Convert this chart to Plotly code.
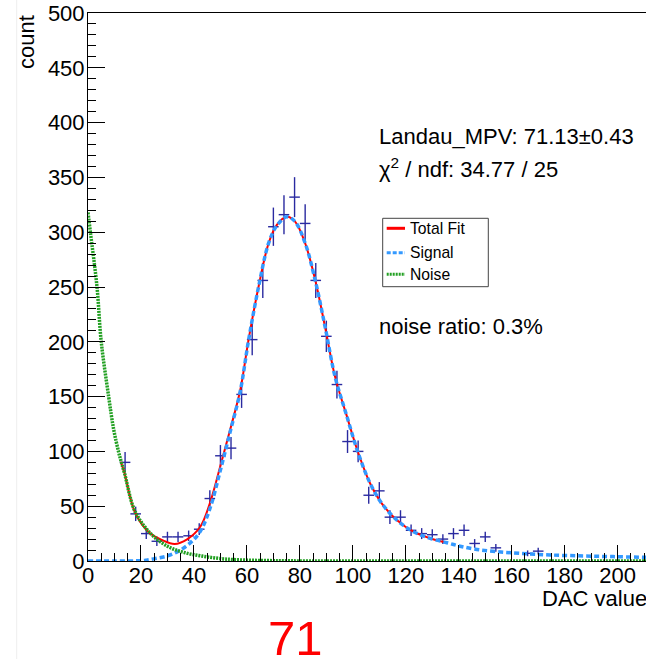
import math
import plotly.graph_objects as go

# ---------------- data ----------------
bin_centers = [14, 18, 22, 26, 30, 34, 38, 42, 46, 50, 54, 58, 62, 66, 70, 74, 78, 82, 86, 90,
               94, 98, 102, 106, 110, 114, 118, 122, 126, 130, 134, 138, 142, 146, 150, 154, 166, 170]
counts = [90, 43, 25, 18, 22, 22, 23, 29, 57, 96, 103, 152, 202, 256, 305, 316, 332, 308, 256, 205,
          161, 109, 100, 60, 64, 40, 40, 28, 25, 24, 20, 25, 28, 16, 22, 12, 7, 9]
bin_half_width = 2

# fitted curves
total_x = [12.4, 13.8, 17.8, 23.5, 27.9, 32.7, 37.4, 42.4, 46.2, 49.9, 53.7, 57.5, 60.6, 64.4,
           68.2, 71.3, 75.1, 78.2, 82.0, 85.8, 89.5, 93.3, 97.5, 102.1, 106.5, 110.9, 116.6,
           122.9, 129.2, 135.0]
total_y = [90.6, 80, 44, 25, 19.2, 15.5, 19.8, 31.3, 54, 86, 120, 156, 201.6, 250.3,
           289.9, 306.6, 314, 309.6, 289.9, 256.4, 213.8, 168, 134, 98.3, 70.9, 52.6, 37.4,
           26.7, 20.7, 16.8]

signal_x = [0, 10, 20, 22, 25.4, 29.8, 34.2, 38.6, 42.4, 46.2, 49.9, 53.7, 57.5, 60.6, 64.4,
            68.2, 71.3, 75.1, 78.2, 82.0, 85.8, 89.5, 93.3, 97.5, 102.1, 106.5, 110.9, 116.6,
            122.9, 129.2, 135.5, 140.5, 146.8, 154.3, 163.1, 174.5, 187.0, 198.3, 210.7]
signal_y = [0, 0, 0.3, 0.8, 2.2, 4.5, 9, 16.5, 27, 49, 82, 118, 155, 201, 250,
            290, 306, 314, 309.6, 290, 256, 214, 168, 134, 98, 71, 52.6, 37.4,
            26.7, 20.7, 16.7, 13.5, 10.5, 8.5, 7, 5.5, 4.6, 4, 3.4]

noise_x = [0, 0.9, 3.4, 5.0, 7.8, 9.7, 11.5, 12.6, 13.8, 17.8, 24.1, 30.4, 36.7, 43.0, 49.3,
           55.8, 70, 100, 150, 210.7]
noise_y = [318, 300, 250, 200, 150, 120, 100, 90, 80, 45, 24, 13, 7.5, 4.5, 2.4,
           1.2, 0.3, 0, 0, 0]

x_ticks = [0, 20, 40, 60, 80, 100, 120, 140, 160, 180, 200]
y_ticks = [0, 50, 100, 150, 200, 250, 300, 350, 400, 450, 500]

title_text = "71"
mpv_text = "Landau_MPV: 71.13±0.43"
chi_text = "χ<sup>2</sup> / ndf: 34.77 / 25"
noise_text = "noise ratio: 0.3%"
legend_labels = ["Total Fit", "Signal", "Noise"]

# ---------------- styles ----------------
FONT = "Liberation Sans, Arial, sans-serif"
NAVY = "#2a2aa0"
RED = "#ff0000"
BLUE = "#3399ff"
GREEN = "#22a022"
FS = 22

W, H = 646, 659
L, R, T, B = 88, 0, 13, 98
PW, PH = W - L - R, H - T - B


def px_x(p):
    return (p - L) / PW


def px_y(p):
    return (H - B - p) / PH


fig = go.Figure()

fig.add_trace(go.Scatter(
    x=bin_centers, y=counts, mode="markers",
    marker=dict(size=0.1, color=NAVY),
    error_x=dict(type="constant", value=bin_half_width, width=0, thickness=1.4, color=NAVY),
    error_y=dict(type="data", array=[math.sqrt(c) for c in counts], width=0, thickness=1.4, color=NAVY),
    showlegend=False, hoverinfo="skip"))

fig.add_trace(go.Scatter(x=total_x, y=total_y, mode="lines",
                         line=dict(color=RED, width=2, shape="spline", smoothing=1),
                         showlegend=False))
fig.add_trace(go.Scatter(x=signal_x, y=signal_y, mode="lines",
                         line=dict(color=BLUE, width=3.5, dash="5px,3px", shape="spline", smoothing=1),
                         showlegend=False))
fig.add_trace(go.Scatter(x=noise_x, y=noise_y, mode="lines",
                         line=dict(color=GREEN, width=3.5, dash="2px,1px", shape="spline", smoothing=1),
                         showlegend=False))

axis_common = dict(showline=True, linecolor="black", linewidth=1, ticks="inside",
                   tickcolor="black", tickwidth=1, showgrid=False, zeroline=False,
                   tickfont=dict(family=FONT, size=FS, color="black"))

fig.update_xaxes(range=[0, 210.7], tickvals=x_ticks, ticklen=16, mirror=True,
                 ticklabelstandoff=-5,
                 minor=dict(dtick=5, tick0=0, ticks="inside", ticklen=8, tickcolor="black", showgrid=False),
                 **axis_common)
fig.update_yaxes(range=[0, 500], tickvals=y_ticks, ticklen=17, mirror=False,
                 ticklabelstandoff=-2,
                 minor=dict(dtick=10, tick0=0, ticks="inside", ticklen=8, tickcolor="black", showgrid=False),
                 **axis_common)

ann = []
# axis titles
ann.append(dict(text="count", x=px_x(26), y=1.0, xref="paper", yref="paper",
                xanchor="center", yanchor="top", textangle=-90, showarrow=False,
                font=dict(family=FONT, size=FS, color="black")))
ann.append(dict(text="DAC value", x=1 + 2.0 / PW, y=px_y(611.5), xref="paper", yref="paper",
                xanchor="right", yanchor="bottom", showarrow=False, borderpad=0,
                font=dict(family=FONT, size=FS, color="black")))
# title
ann.append(dict(text=title_text, x=px_x(295), y=px_y(638), xref="paper", yref="paper",
                xanchor="center", yanchor="middle", showarrow=False, borderpad=0,
                font=dict(family="Liberation Sans Narrow, Liberation Sans, sans-serif", size=49, color=RED)))
# stats text
for txt, base in [(mpv_text, 149.8), (chi_text, 183.0), (noise_text, 339.8)]:
    ann.append(dict(text=txt, x=px_x(378), y=px_y(base), xref="paper", yref="paper",
                    xanchor="left", yanchor="bottom", showarrow=False, borderpad=0,
                    font=dict(family=FONT, size=FS, color="black")))
# legend texts
for txt, base in zip(legend_labels, [238.5, 261.8, 283.5]):
    ann.append(dict(text=txt, x=px_x(408.5), y=px_y(base), xref="paper", yref="paper",
                    xanchor="left", yanchor="bottom", showarrow=False, borderpad=0,
                    font=dict(family=FONT, size=15.7, color="black")))

shapes = []
# legend box
shapes.append(dict(type="rect", xref="paper", yref="paper",
                   x0=px_x(382.7), x1=px_x(488.3), y0=px_y(286.7), y1=px_y(218.3),
                   line=dict(color="#444444", width=1), fillcolor="white", layer="above"))
for yy, col, dash in [(228.3, RED, "solid"), (252.7, BLUE, "4px,2px"), (274.3, GREEN, "2px,1px")]:
    shapes.append(dict(type="line", xref="paper", yref="paper",
                       x0=px_x(386.7), x1=px_x(405), y0=px_y(yy), y1=px_y(yy),
                       line=dict(color=col, width=3, dash=dash), layer="above"))
# faint canvas line on the left
shapes.append(dict(type="line", xref="paper", yref="paper",
                   x0=px_x(16.7), x1=px_x(16.7), y0=px_y(659), y1=px_y(0),
                   line=dict(color="#eeeeee", width=1)))

fig.update_layout(width=W, height=H, autosize=False,
                  margin=dict(l=L, r=R, t=T, b=B, pad=0),
                  paper_bgcolor="white", plot_bgcolor="white",
                  showlegend=False, annotations=ann, shapes=shapes,
                  font=dict(family=FONT))

fig.write_html("out.html")
